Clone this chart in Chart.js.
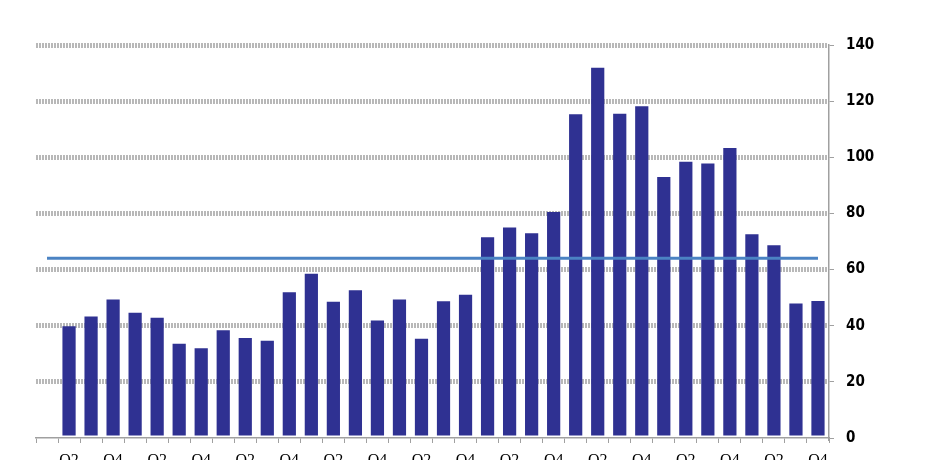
<!DOCTYPE html>
<html>
<head>
<meta charset="utf-8">
<script src="https://cdn.jsdelivr.net/npm/chart.js@4"></script>
<style>
  html, body { margin: 0; padding: 0; background: #ffffff; overflow: hidden; }
  #wrap { width: 950px; height: 460px; overflow: hidden; position: relative; }
  #c { display: block; }
</style>
</head>
<body>
<div id="wrap"><canvas id="c" width="950" height="480"></canvas></div>
<script>
// Quarterly categories (first slot Q1 has no bar)
const categories = [
  'Q1','Q2','Q3','Q4','Q1','Q2','Q3','Q4','Q1','Q2','Q3','Q4',
  'Q1','Q2','Q3','Q4','Q1','Q2','Q3','Q4','Q1','Q2','Q3','Q4',
  'Q1','Q2','Q3','Q4','Q1','Q2','Q3','Q4','Q1','Q2','Q3','Q4'
];
// Bar values
const barValues = [
  null, 39.8, 43.3, 49.3, 44.6, 42.8, 33.6, 32.0, 38.4, 35.6, 34.6, 51.9,
  58.5, 48.5, 52.6, 41.9, 49.3, 35.4, 48.7, 51.0, 71.5, 75.0, 72.9, 80.5,
  115.3, 131.9, 115.5, 118.2, 93.0, 98.4, 97.8, 103.3, 72.6, 68.7, 47.9, 48.8
];
// Horizontal average level
const averageLevel = 64;
const averageValues = categories.map(() => averageLevel);
// Y axis ticks
const yTicks = [0, 20, 40, 60, 80, 100, 120, 140];

const gridGray = '#b8b8b8';
const axisGray = '#a0a0a0';

new Chart(document.getElementById('c'), {
  data: {
    labels: categories,
    datasets: [
      {
        type: 'line',
        data: averageValues,
        borderColor: '#4b83c3',
        borderWidth: 3,
        pointRadius: 0,
        fill: false,
        order: 0
      },
      {
        type: 'bar',
        data: barValues,
        backgroundColor: '#2f3192',
        borderWidth: 0,
        barPercentage: 0.6,
        categoryPercentage: 1.0,
        order: 1
      }
    ]
  },
  options: {
    responsive: false,
    animation: false,
    devicePixelRatio: 1,
    layout: { padding: { left: 36, right: 0, top: 45, bottom: 12 } },
    plugins: { legend: { display: false }, tooltip: { enabled: false }, title: { display: false } },
    scales: {
      x: {
        type: 'category',
        offset: true,
        afterFit: (s) => { s.height = 30; },
        grid: {
          display: true,
          offset: true,
          drawOnChartArea: false,
          drawTicks: true,
          tickLength: 5,
          tickColor: axisGray,
          tickWidth: 1
        },
        border: { display: true, color: axisGray, width: 1.5 },
        ticks: {
          autoSkip: false,
          maxRotation: 0,
          minRotation: 0,
          padding: 8,
          color: '#000000',
          font: { family: "'Liberation Serif', 'DejaVu Serif', serif", size: 16 },
          callback: (v, i) => (i % 2 === 1 ? categories[i] : '')
        }
      },
      y: {
        position: 'right',
        min: 0,
        max: 140,
        afterFit: (s) => { s.width = 121; },
        afterBuildTicks: (s) => { s.ticks = yTicks.map(v => ({ value: v })); },
        grid: {
          display: true,
          drawOnChartArea: true,
          drawTicks: true,
          tickLength: 5,
          tickColor: axisGray,
          tickWidth: 1,
          lineWidth: 5,
          color: (ctx) => (ctx.tick && ctx.tick.value === 0 ? 'rgba(0,0,0,0)' : gridGray)
        },
        border: { display: true, color: axisGray, width: 1.5, dash: [2, 1] },
        ticks: {
          padding: 12,
          color: '#000000',
          font: { family: "'Liberation Sans Narrow', 'DejaVu Sans Condensed', 'Arial Narrow', sans-serif", size: 15, weight: 'bold' }
        }
      }
    }
  }
});
</script>
</body>
</html>
